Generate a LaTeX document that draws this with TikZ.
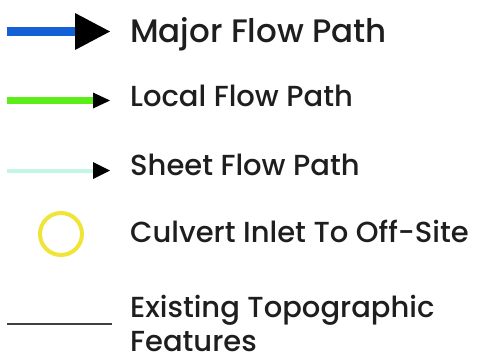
\documentclass[tikz,border=0pt]{standalone}
\usepackage{fontspec}
\setmainfont{Poppins}[UprightFont=* Medium]
\definecolor{majorblue}{RGB}{20,96,214}
\definecolor{localgreen}{RGB}{92,238,24}
\definecolor{sheetcyan}{RGB}{196,246,232}
\definecolor{culvertyellow}{RGB}{240,228,56}
\definecolor{topogray}{RGB}{64,64,64}
\definecolor{labeltext}{RGB}{30,30,30}
\tikzset{
  lbl/.style={anchor=base west, inner sep=0pt, text=labeltext, font=\fontsize{29}{34}\selectfont},
  bigLbl/.style={lbl, font=\fontsize{32.5}{40}\selectfont},
  tri/.style={fill=black, draw=none},
}
\begin{document}
\begin{tikzpicture}[x=1pt,y=-1pt]
\useasboundingbox (0,0) rectangle (479,360);
% Major flow path
\coordinate (m0) at (7,31.5);
\coordinate (m1) at (80,31.5);
\draw[majorblue, line width=9pt] (m0) -- (m1);
\fill[tri] (75,13) -- (110,31.5) -- (75,50) -- cycle;
\node[bigLbl] (mlab) at (130,42) {Major Flow Path};
% Local flow path
\coordinate (l0) at (7,100);
\coordinate (l1) at (95,100);
\draw[localgreen, line width=7pt] (l0) -- (l1);
\fill[tri] (93,92.5) -- (110,100.5) -- (93,108.5) -- cycle;
\node[lbl] (llab) at (130,106) {Local Flow Path};
% Sheet flow path
\coordinate (s0) at (7,171);
\coordinate (s1) at (95,171);
\draw[sheetcyan, line width=4pt] (s0) -- (s1);
\fill[tri] (93,162) -- (110,170.5) -- (93,179) -- cycle;
\node[lbl] (slab) at (130,175) {Sheet Flow Path};
% Culvert
\node[circle, draw=culvertyellow, line width=4pt, minimum size=42pt, inner sep=0pt] (cul) at (61,234) {};
\node[lbl] (clab) at (130,242) {Culvert Inlet To Off-Site};
% Topographic
\coordinate (t0) at (7,324);
\coordinate (t1) at (112,324);
\draw[topogray, line width=2.7pt] (t0) -- (t1);
\node[lbl] (tlab) at (130,317) {Existing Topographic};
\node[lbl] (tlab2) at (130,351) {Features};
\end{tikzpicture}
\end{document}
